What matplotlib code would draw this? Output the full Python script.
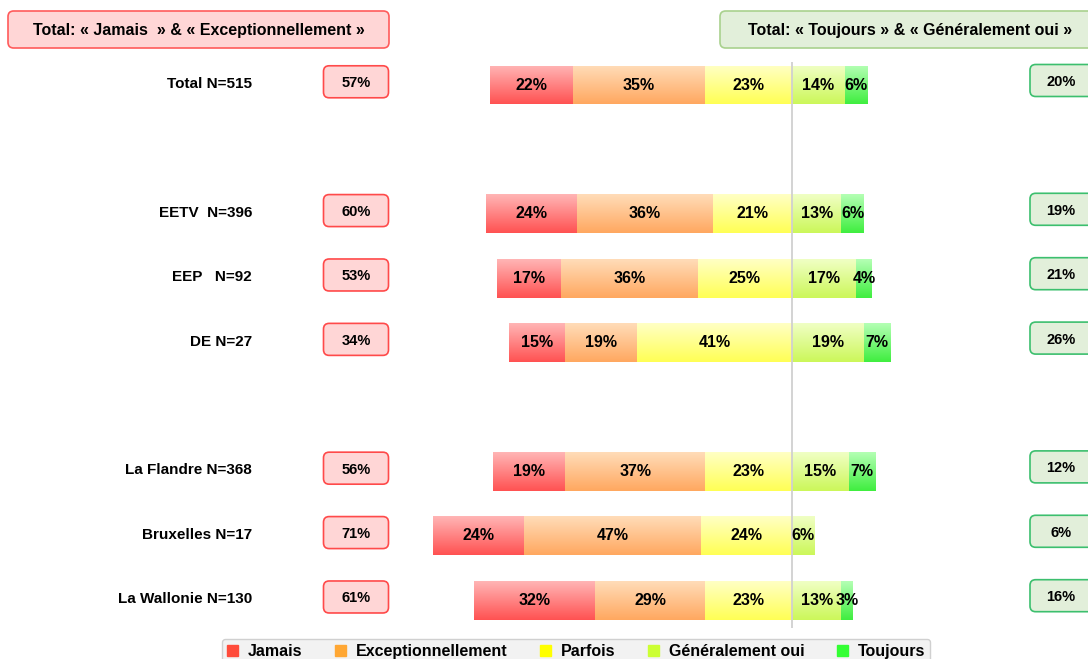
import numpy as np
import matplotlib.pyplot as plt
from matplotlib.colors import LinearSegmentedColormap
from matplotlib.patches import FancyBboxPatch, Patch

plt.rcParams["font.family"] = ["Liberation Sans", "DejaVu Sans"]
plt.rcParams["font.weight"] = "bold"

# survey rows, top to bottom
groups = ["Total N=515", "EETV  N=396", "EEP   N=92", "DE N=27",
          "La Flandre N=368", "Bruxelles N=17", "La Wallonie N=130"]
row_pos = [0, 2, 3, 4, 6, 7, 8]

categories = ["Jamais", "Exceptionnellement", "Parfois", "Généralement oui", "Toujours"]
jamais = [22, 24, 17, 15, 19, 24, 32]
exceptionnel = [35, 36, 36, 19, 37, 47, 29]
parfois = [23, 21, 25, 41, 23, 24, 23]
generalement = [14, 13, 17, 19, 15, 6, 13]
toujours = [6, 6, 4, 7, 7, 0, 3]

# totals as printed in the side boxes
total_neg = [57, 60, 53, 34, 56, 71, 61]
total_pos = [20, 19, 21, 26, 12, 6, 16]

legend_colors = ["#FF4B3A", "#FFA733", "#FFFF00", "#CCFF33", "#33FF33"]
grad_colors = [("#FFB5B5", "#FF5252"), ("#FFDCB8", "#FFA860"),
               ("#FFFFC4", "#FFFF55"), ("#F0FFC4", "#CCF75A"),
               ("#B4FFB4", "#40EE40")]

PX_PCT = 3.78    # pixels per percentage point
PX_ROW = 64.4    # pixels per row
X0, Y0 = 792, 85  # pixel of the centre line / first row

fig = plt.figure(figsize=(10.88, 6.59), dpi=100)
ax = fig.add_axes([0, 0, 1, 1])
ax.set_xlim(-X0 / PX_PCT, (1088 - X0) / PX_PCT)
ax.set_ylim((659 - Y0) / PX_ROW, -Y0 / PX_ROW)
ax.axis("off")


def px(x, y):
    return (x - X0) / PX_PCT, (y - Y0) / PX_ROW


segments = np.array([jamais, exceptionnel, parfois, generalement, toujours], dtype=float)
left = -(segments[0] + segments[1] + segments[2])
bar_h = 0.6
aspect = PX_PCT / PX_ROW

for i, cat in enumerate(categories):
    vals = segments[i]
    bars = ax.barh(row_pos, vals, left=left, height=bar_h, color=legend_colors[i],
                   edgecolor="none", zorder=2)
    cmap = LinearSegmentedColormap.from_list(cat, grad_colors[i])
    grad = np.linspace(0, 1, 64).reshape(-1, 1)
    for b, v in zip(bars, vals):
        if v <= 0:
            continue
        x0, y0 = b.get_x(), b.get_y()
        im = ax.imshow(grad, cmap=cmap, aspect="auto", origin="upper",
                       extent=(x0, x0 + b.get_width(), y0 + b.get_height(), y0),
                       zorder=3)
        im.set_clip_path(b)
        ax.text(x0 + b.get_width() / 2, y0 + b.get_height() / 2, f"{int(v)}%",
                ha="center", va="center", fontsize=11.5, fontweight="bold", zorder=5)
    left = left + vals

ax.set_xlim(-X0 / PX_PCT, (1088 - X0) / PX_PCT)
ax.set_ylim((659 - Y0) / PX_ROW, -Y0 / PX_ROW)

# centre line between "Parfois" and "Généralement oui"
ax.vlines(0, px(0, 62)[1], px(0, 628)[1], color="#D0D0D0", lw=1.3, zorder=4)

# row labels and total boxes
lx = px(252, 0)[0]
bw, bh = 65 / PX_PCT, 32 / PX_ROW
for name, y, neg, pos in zip(groups, row_pos, total_neg, total_pos):
    ax.text(lx, y - 0.04, name, ha="right", va="center_baseline", fontsize=11,
            fontweight="bold")

    cx = px(356, 0)[0]
    ax.add_patch(FancyBboxPatch((cx - bw / 2, y - 0.05 - bh / 2), bw, bh,
                                boxstyle="round,pad=0,rounding_size=1.5",
                                mutation_aspect=aspect, fc="#FFD6D6", ec="#FF4A4A",
                                lw=1.2, zorder=2))
    ax.text(cx, y - 0.05, f"{neg}%", ha="center", va="center_baseline", fontsize=10.5,
            fontweight="bold")

    rx = px(1030, 0)[0]
    ax.add_patch(FancyBboxPatch((rx, y - 0.07 - bh / 2), 70 / PX_PCT, bh,
                                boxstyle="round,pad=0,rounding_size=1.5",
                                mutation_aspect=aspect, fc="#E2EFDA", ec="#3CBF6E",
                                lw=1.2, zorder=2))
    ax.text(px(1061, 0)[0], y - 0.07, f"{pos}%", ha="center", va="center_baseline",
            fontsize=10.5, fontweight="bold")

# header boxes
hx0, hy0 = px(8, 11)
hx1, hy1 = px(389, 48)
ax.add_patch(FancyBboxPatch((hx0, hy0), hx1 - hx0, hy1 - hy0,
                            boxstyle="round,pad=0,rounding_size=1.5",
                            mutation_aspect=aspect, fc="#FFD6D6", ec="#FF5B5B", lw=1.2))
ax.text(*px(199, 30), "Total: « Jamais  » & « Exceptionnellement »", ha="center",
        va="center", fontsize=11.5, fontweight="bold")

hx0, hy0 = px(720, 11)
hx1, hy1 = px(1110, 48)
ax.add_patch(FancyBboxPatch((hx0, hy0), hx1 - hx0, hy1 - hy0,
                            boxstyle="round,pad=0,rounding_size=1.5",
                            mutation_aspect=aspect, fc="#E2EFDA", ec="#A9D18E", lw=1.2))
ax.text(*px(910, 30), "Total: « Toujours » & « Généralement oui »", ha="center",
        va="center", fontsize=11.5, fontweight="bold")

# legend along the bottom edge
handles = [Patch(color=c, label=l) for c, l in zip(legend_colors, categories)]
ax.legend(handles=handles, ncol=5, loc="upper left",
          bbox_to_anchor=(222 / 1088, 1 - 639 / 659), bbox_transform=fig.transFigure,
          frameon=True, fancybox=True, facecolor="#F2F2F2", edgecolor="#D0D0D0",
          framealpha=1, fontsize=11.5, handlelength=0.7, handleheight=0.7,
          handletextpad=0.6, columnspacing=2.05, borderpad=0.3, borderaxespad=0)

fig.savefig("out.png", dpi=100)
